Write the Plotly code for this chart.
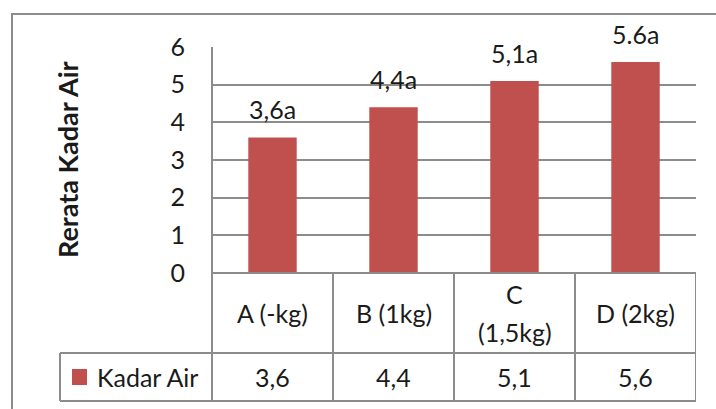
import plotly.graph_objects as go

# Data
categories = ["A (-kg)", "B (1kg)", "C\n(1,5kg)", "D (2kg)"]
kadar_air = [3.6, 4.4, 5.1, 5.6]
bar_labels = ["3,6a", "4,4a", "5,1a", "5.6a"]
series_name = "Kadar Air"
y_title = "Rerata Kadar Air"
y_ticks = [0, 1, 2, 3, 4, 5, 6]

W, H = 716, 409
FONT = "Lato"
SIZE = 25
BAR = "#C0504D"
LINE = "#8C8C8C"
TXT = "#1a1a1a"


def px(x):
    return x / W


def py(y):
    return 1 - y / H


# plot area / table geometry (pixels)
plot_l, plot_r, plot_t, plot_b = 212, 696, 47, 273
row1_b, row2_b = 353, 401
legend_l = 60

xs = list(range(len(categories)))

fig = go.Figure()
fig.add_trace(go.Bar(
    x=xs, y=kadar_air, name=series_name, marker_color=BAR,
    marker_line_width=0, width=0.4, showlegend=False,
))

ann = []
# value labels above bars
for x, v, t in zip(xs, kadar_air, bar_labels):
    ann.append(dict(x=x, y=v, xref="x", yref="y", text=t, showarrow=False,
                    xanchor="center", yanchor="bottom", yshift=11,
                    font=dict(family=FONT, size=SIZE, color=TXT)))

# data table: header row (category names) and value row
row1_c = (plot_b + row1_b) / 2
row2_c = (row1_b + row2_b) / 2
for x, cat, v in zip(xs, categories, kadar_air):
    lines = cat.split("\n")
    step = 38
    start = row1_c - step * (len(lines) - 1) / 2
    for i, ln in enumerate(lines):
        ann.append(dict(x=x, y=py(start + i * step), xref="x", yref="paper",
                        text=ln, showarrow=False,
                        xanchor="center", yanchor="middle",
                        font=dict(family=FONT, size=SIZE, color=TXT)))
    ann.append(dict(x=x, y=py(row2_c), xref="x", yref="paper",
                    text=f"{v:.1f}".replace(".", ","), showarrow=False,
                    xanchor="center", yanchor="middle",
                    font=dict(family=FONT, size=SIZE, color=TXT)))

# legend key in the table
ann.append(dict(x=px(95), y=py(row2_c), xref="paper", yref="paper",
                text=series_name, showarrow=False,
                xanchor="left", yanchor="middle",
                font=dict(family=FONT, size=SIZE, color=TXT)))

# y axis title
ann.append(dict(x=px(67), y=py((plot_t + plot_b) / 2), xref="paper", yref="paper",
                text=f"<b>{y_title}</b>", showarrow=False, textangle=-90,
                xanchor="center", yanchor="middle",
                font=dict(family=FONT, size=27, color=TXT)))

ln = dict(color=LINE, width=2)
shapes = [
    # outer chart frame
    dict(type="rect", xref="paper", yref="paper", x0=px(12), x1=px(730),
         y0=py(14), y1=py(430), line=ln),
    # table horizontal rules
    dict(type="line", xref="paper", yref="paper", x0=px(plot_l), x1=px(plot_r),
         y0=py(plot_b), y1=py(plot_b), line=ln),
    dict(type="line", xref="paper", yref="paper", x0=px(legend_l), x1=px(plot_r),
         y0=py(row1_b), y1=py(row1_b), line=ln),
    dict(type="line", xref="paper", yref="paper", x0=px(legend_l), x1=px(plot_r),
         y0=py(row2_b), y1=py(row2_b), line=ln),
    # left axis continuing down through table
    dict(type="line", xref="paper", yref="paper", x0=px(plot_l), x1=px(plot_l),
         y0=py(plot_t), y1=py(row2_b), line=ln),
    dict(type="line", xref="paper", yref="paper", x0=px(legend_l), x1=px(legend_l),
         y0=py(row1_b), y1=py(row2_b), line=ln),
    # legend swatch
    dict(type="rect", xref="paper", yref="paper", x0=px(72), x1=px(87),
         y0=py(369), y1=py(385), fillcolor=BAR, line=dict(width=0)),
]
# column separators at category boundaries
for b in [i + 0.5 for i in xs]:
    shapes.append(dict(type="line", xref="x", yref="paper", x0=b, x1=b,
                       y0=py(plot_b), y1=py(row2_b), line=ln))

fig.update_layout(
    width=W, height=H,
    margin=dict(l=0, r=0, t=0, b=0, autoexpand=False),
    paper_bgcolor="white", plot_bgcolor="white",
    font=dict(family=FONT, size=SIZE, color=TXT),
    xaxis=dict(domain=[px(plot_l), px(plot_r)], range=[-0.5, len(categories) - 0.5],
               showticklabels=False, showgrid=False, zeroline=False,
               showline=False, fixedrange=True),
    yaxis=dict(domain=[py(plot_b), py(plot_t)], range=[0, 6],
               tickvals=y_ticks, ticktext=[str(t) for t in y_ticks],
               showgrid=True, gridcolor=LINE, gridwidth=2,
               zeroline=False, showline=False, ticks="",
               ticklabelstandoff=26,
               tickfont=dict(family=FONT, size=SIZE, color=TXT)),
    annotations=ann,
    shapes=shapes,
)

fig.write_html("out.html")
